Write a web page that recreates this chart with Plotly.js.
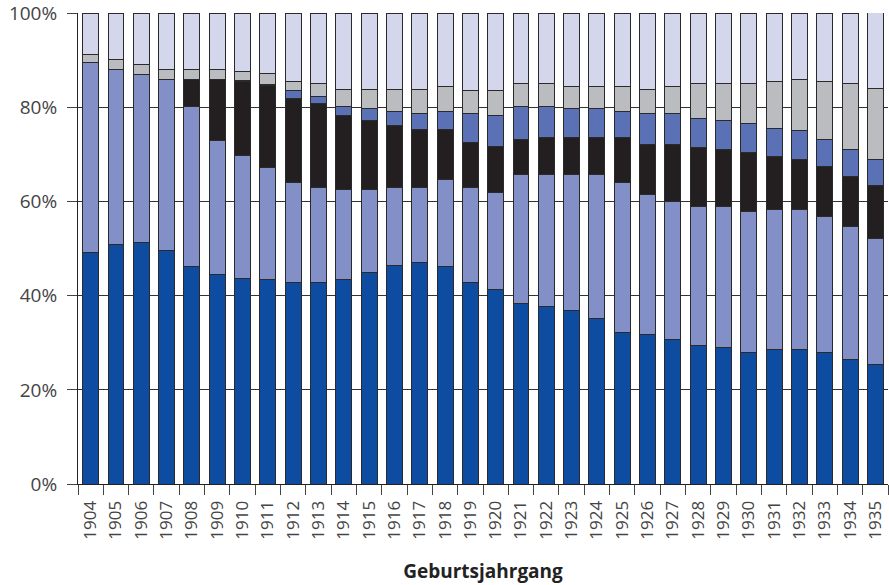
<!DOCTYPE html>
<html>
<head>
<meta charset="utf-8">
<script src="https://cdn.plot.ly/plotly-3.0.1.min.js"></script>
<style>html,body{margin:0;padding:0;background:#fff;}#chart{width:889px;height:585px;}</style>
</head>
<body>
<div id="chart"></div>
<script>
const years = ['1904','1905','1906','1907','1908','1909','1910','1911','1912','1913','1914','1915','1916','1917','1918','1919','1920','1921','1922','1923','1924','1925','1926','1927','1928','1929','1930','1931','1932','1933','1934','1935'];
const darkBlue   = [49.2,50.8,51.3,49.7,46.1,44.5,43.6,43.5,42.9,42.9,43.5,45.0,46.5,47.1,46.1,42.9,41.4,38.3,37.8,36.8,35.2,32.2,31.7,30.6,29.5,29.0,28.0,28.5,28.5,28.0,26.4,25.4];
const periwinkle = [40.4,37.3,35.7,36.3,34.1,28.4,26.2,23.7,21.2,20.1,19.0,17.5,16.5,15.9,18.5,20.1,20.6,27.4,27.9,28.9,30.5,31.9,29.8,29.4,29.4,29.9,29.9,29.9,29.9,28.8,28.4,26.7];
const black      = [0,0,0,0,5.8,13.1,15.7,17.4,17.8,17.9,15.8,14.8,13.2,12.2,10.6,9.6,9.6,7.4,8.0,8.0,8.0,9.6,10.6,12.1,12.6,12.1,12.6,11.1,10.6,10.6,10.6,11.3];
const midBlue    = [0,0,0,0,0,0,0.3,0.3,1.6,1.4,1.9,2.4,2.9,3.6,4.0,6.2,6.6,7.1,6.5,6.0,6.0,5.5,6.7,6.7,6.2,6.2,6.1,6.1,6.1,5.7,5.6,5.5];
const grey       = [1.7,2.1,2.2,2.0,2.1,2.1,1.9,2.2,2.1,2.7,3.7,4.2,4.8,5.1,5.2,4.7,5.3,4.8,4.8,4.7,4.7,5.2,5.1,5.6,7.3,7.8,8.4,9.9,10.9,12.4,14.0,15.1];
const lavender   = [8.7,9.8,10.8,12.0,11.9,11.9,12.3,12.9,14.4,15.0,16.1,16.1,16.1,16.1,15.6,16.5,16.5,15.0,15.0,15.6,15.6,15.6,16.1,15.6,15.0,15.0,15.0,14.5,14.0,14.5,15.0,16.1];
const yTicks = [0,20,40,60,80,100];
const yTickText = ['0%','20%','40%','60%','80%','100%'];

const series = [
  {name:'A', y:darkBlue,   color:'#0d4ca1'},
  {name:'B', y:periwinkle, color:'#8390c7'},
  {name:'C', y:black,      color:'#231f20'},
  {name:'D', y:midBlue,    color:'#5b71b6'},
  {name:'E', y:grey,       color:'#bbbcbf'},
  {name:'F', y:lavender,   color:'#d4d6ec'}
];

const traces = series.map(s => ({
  type:'bar', x:years, y:s.y, name:s.name,
  marker:{color:s.color, line:{color:'#2a2a2a', width:1}},
  hoverinfo:'x+y'
}));

const layout = {
  width:889, height:585,
  margin:{l:78, r:1, t:13, b:101},
  barmode:'stack', bargap:0.37,
  showlegend:false,
  plot_bgcolor:'#fff', paper_bgcolor:'#fff',
  font:{family:'Open Sans, sans-serif', color:'#444'},
  xaxis:{
    type:'category', tickson:'boundaries', ticks:'outside', ticklen:10, tickcolor:'#444',
    tickangle:-90, tickfont:{size:17, color:'#444'}, ticklabelstandoff:9,
    showline:true, linecolor:'#222', linewidth:1, showgrid:false,
    title:{text:'<b>Geburtsjahrgang</b>', font:{size:19, color:'#222'}, standoff:26}
  },
  yaxis:{
    range:[0,100.05], tickmode:'array', tickvals:yTicks, ticktext:yTickText,
    ticks:'outside', ticklen:10, tickcolor:'#444', ticklabelstandoff:6,
    ticklabeloverflow:'allow',
    tickfont:{size:19, color:'#444'},
    showline:true, linecolor:'#222', linewidth:1,
    showgrid:true, gridcolor:'#333', gridwidth:1, zeroline:false
  }
};

Plotly.newPlot('chart', traces, layout, {displayModeBar:false, staticPlot:true});
</script>
</body>
</html>
